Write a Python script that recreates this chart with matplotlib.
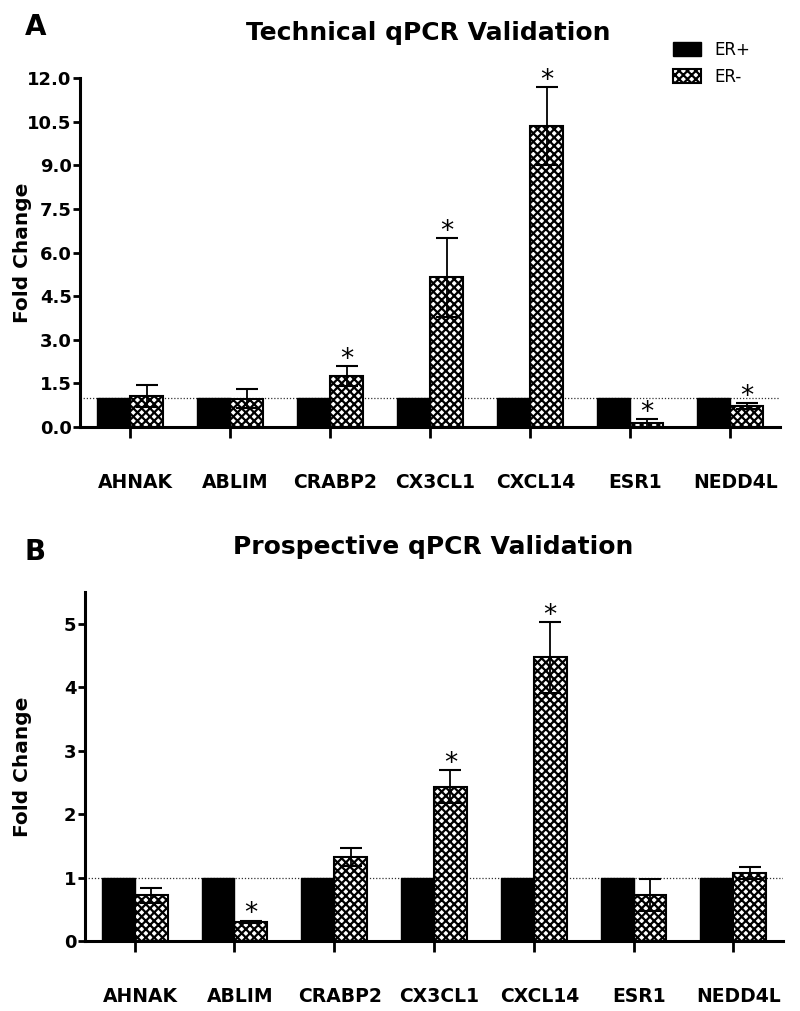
import matplotlib
matplotlib.use("Agg")
import matplotlib.pyplot as plt
import matplotlib.patches as mpatches
import numpy as np

matplotlib.rcParams.update({"font.family": "DejaVu Sans", "hatch.linewidth": 1.6})

GENES = ["AHNAK", "ABLIM", "CRABP2", "CX3CL1", "CXCL14", "ESR1", "NEDD4L"]

# panel A: technical validation
tech_pos = [1.0, 1.0, 1.0, 1.0, 1.0, 1.0, 1.0]
tech_neg = [1.06, 0.98, 1.75, 5.15, 10.35, 0.13, 0.72]
tech_err = [0.38, 0.34, 0.35, 1.35, 1.33, 0.15, 0.10]
tech_sig = [False, False, True, True, True, True, True]
tech_yticks = [0.0, 1.5, 3.0, 4.5, 6.0, 7.5, 9.0, 10.5, 12.0]

# panel B: prospective validation
prosp_pos = [1.0, 1.0, 1.0, 1.0, 1.0, 1.0, 1.0]
prosp_neg = [0.72, 0.30, 1.32, 2.43, 4.47, 0.72, 1.07]
prosp_err = [0.12, 0.02, 0.14, 0.26, 0.56, 0.25, 0.10]
prosp_sig = [False, True, False, True, True, False, False]
prosp_yticks = [0, 1, 2, 3, 4, 5]


def draw_panel(ax, pos, neg, err, sig, yticks, ylim, yfmt, ylab_x):
    x = np.arange(len(GENES))
    w = 0.33
    ax.axhline(1.0, color="#333333", linestyle=(0, (1, 1.5)), linewidth=0.9, zorder=0)
    ax.bar(x - w / 2, pos, width=w, color="black", edgecolor="black", zorder=2)
    ax.bar(x + w / 2, neg, width=w, color="white", edgecolor="black",
           hatch="xxxx", linewidth=1.5, zorder=2)
    ax.errorbar(x + w / 2, neg, yerr=err, fmt="none", ecolor="black",
                elinewidth=1.3, capsize=8, capthick=1.5, zorder=3)
    for xi, v, e, s in zip(x, neg, err, sig):
        if s:
            ax.annotate("*", (xi + w / 2, v + e), xytext=(0, -0.5),
                        textcoords="offset points", ha="center", va="baseline",
                        fontsize=19, zorder=4)

    ax.set_xlim(-0.5, 6.5)
    ax.set_ylim(*ylim)
    ax.set_xticks(x)
    ax.set_xticklabels([])
    for xi, g in zip(x, GENES):
        ax.annotate(g, (xi, 0), xycoords=("data", "axes fraction"),
                    xytext=(4, -40), textcoords="offset points",
                    ha="center", va="center", fontsize=13.5, fontweight="bold")
    ax.set_yticks(yticks)
    ax.set_yticklabels([yfmt.format(t) for t in yticks], fontsize=13, fontweight="bold")
    ax.tick_params(axis="y", length=5, width=2, pad=1)
    ax.tick_params(axis="x", length=8, width=2)
    for side in ("top", "right"):
        ax.spines[side].set_visible(False)
    for side in ("left", "bottom"):
        ax.spines[side].set_linewidth(2.2)
    ax.set_ylabel("Fold Change", fontsize=14.5, fontweight="bold")
    ax.yaxis.set_label_coords(ylab_x, 0.5)


fig = plt.figure(figsize=(8, 10.11), dpi=100)

axA = fig.add_axes([0.100, 0.5776, 0.875, 0.3452])
draw_panel(axA, tech_pos, tech_neg, tech_err, tech_sig, tech_yticks,
           (0, 12), "{:.1f}", -0.068)

axB = fig.add_axes([0.106, 0.0692, 0.873, 0.3452])
draw_panel(axB, prosp_pos, prosp_neg, prosp_err, prosp_sig, prosp_yticks,
           (0, 5.5), "{:d}", -0.075)

handles = [
    mpatches.Patch(facecolor="black", edgecolor="black", label="ER+"),
    mpatches.Patch(facecolor="white", edgecolor="black", hatch="xxxx",
                   linewidth=1.5, label="ER-"),
]
axA.legend(handles=handles, loc="upper left", bbox_to_anchor=(0.825, 1.15),
           frameon=False, fontsize=12, handlelength=1.7, handleheight=0.9,
           handletextpad=0.8, labelspacing=0.55)

fig.text(0.535, 1 - 33 / 1011, "Technical qPCR Validation", ha="center",
         va="center", fontsize=18, fontweight="bold")
fig.text(0.541, 1 - 547 / 1011, "Prospective qPCR Validation", ha="center",
         va="center", fontsize=18, fontweight="bold")
fig.text(0.044, 1 - 27 / 1011, "A", ha="center", va="center", fontsize=20,
         fontweight="bold")
fig.text(0.044, 1 - 552 / 1011, "B", ha="center", va="center", fontsize=20,
         fontweight="bold")

fig.savefig("out.png", dpi=100)
